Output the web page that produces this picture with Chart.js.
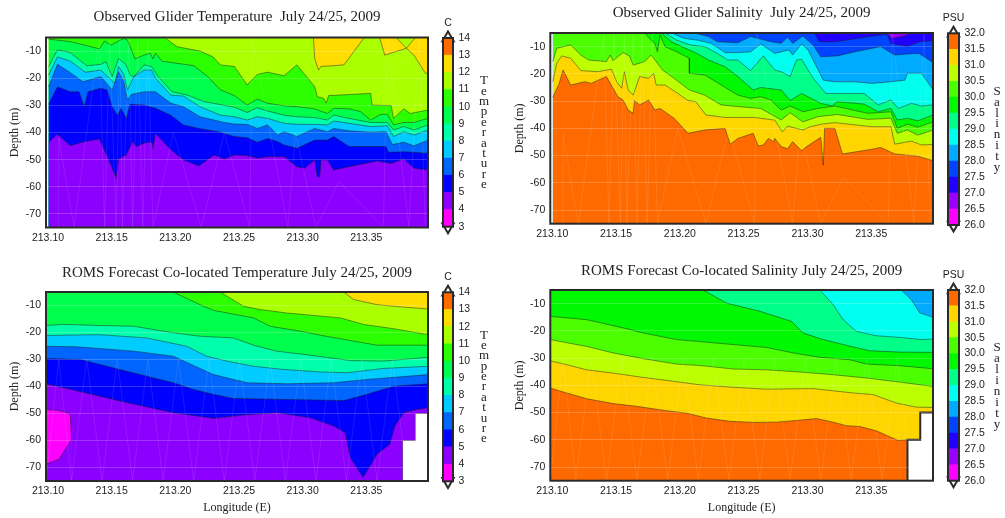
<!DOCTYPE html>
<html>
<head>
<meta charset="utf-8">
<title>Glider and ROMS sections</title>
<script src="https://cdn.jsdelivr.net/npm/chart.js@4"></script>
<style>
html, body { margin: 0; padding: 0; background: #fff; overflow: hidden; }
canvas { position: absolute; filter: blur(0.45px); }
</style>
</head>
<body>
<script>
// axis labels
const lonTicks = [213.10, 213.15, 213.20, 213.25, 213.30, 213.35];
const depthTicks = [-10, -20, -30, -40, -50, -60, -70];
const tempLevels = [3, 4, 5, 6, 7, 8, 9, 10, 11, 12, 13, 14];
const saltLevels = [26, 26.5, 27, 27.5, 28, 28.5, 29, 29.5, 30, 30.5, 31, 31.5, 32];

// band colours, lowest level first
const tempColors = ['#ff00ff', '#8b00ff', '#0000ff', '#0066ff', '#00ccff', '#00ffaa', '#00ff4c', '#2cff00', '#aaff00', '#ffdd00', '#ff6a00'];
const saltColors = ['#ff00ff', '#9900ff', '#2200ff', '#0044ff', '#00aaff', '#00ffee', '#00ff88', '#00f800', '#4cff00', '#bbff00', '#ffd500', '#ff6a00'];

// Observed glider temperature, contour depths [lon, depth]
const obsT5 = [[213.102,-43.6],[213.109,-40.6],[213.119,-44.9],[213.130,-43.4],[213.142,-42.4],[213.147,-47.7],[213.152,-53.2],[213.155,-56.9],[213.157,-49.8],[213.163,-48.3],[213.168,-43.4],[213.171,-45.2],[213.177,-44],[213.183,-43.4],[213.184,-45.8],[213.186,-40.3],[213.198,-46.4],[213.208,-50.1],[213.220,-52.3],[213.232,-48.3],[213.240,-49.8],[213.248,-48.3],[213.258,-48.5],[213.266,-49.5],[213.274,-48.9],[213.287,-48.9],[213.297,-52.6],[213.303,-53.2],[213.311,-50.1],[213.313,-56.3],[213.315,-56.3],[213.316,-50.1],[213.321,-50.1],[213.326,-53.8],[213.338,-52.6],[213.360,-50.5],[213.371,-51.4],[213.381,-49.8],[213.389,-53.2],[213.400,-53.8]];
const obsT6 = [[213.102,-29.6],[213.109,-23.1],[213.119,-25],[213.126,-25],[213.130,-30.5],[213.133,-25],[213.143,-23.7],[213.148,-24.3],[213.152,-30.5],[213.156,-33.6],[213.159,-31.1],[213.163,-34.8],[213.166,-29.6],[213.177,-29.9],[213.186,-31.1],[213.198,-33.6],[213.208,-37.2],[213.220,-38.5],[213.235,-39.7],[213.248,-41.5],[213.258,-41.9],[213.266,-43.6],[213.274,-42.2],[213.282,-43.4],[213.287,-44.6],[213.297,-45.8],[213.311,-42.8],[213.321,-42.8],[213.326,-41.5],[213.338,-45.2],[213.367,-45.2],[213.369,-47.3],[213.381,-47.1],[213.389,-47.3],[213.400,-47.7]];
const obsT7 = [[213.102,-23.1],[213.109,-14.9],[213.118,-17.6],[213.129,-21.3],[213.143,-19.4],[213.152,-24.3],[213.157,-17.6],[213.161,-21.3],[213.164,-28],[213.167,-26],[213.177,-25],[213.186,-25],[213.198,-29.2],[213.208,-30.5],[213.221,-34.2],[213.240,-36.3],[213.248,-36.9],[213.258,-37],[213.266,-38.5],[213.274,-37.2],[213.282,-40.9],[213.287,-39.7],[213.297,-41.5],[213.311,-38.5],[213.321,-39.7],[213.326,-38.5],[213.338,-39.4],[213.355,-39.9],[213.367,-39.7],[213.372,-44.4],[213.381,-43.6],[213.389,-44.9],[213.400,-42.8]];
const obsT8 = [[213.102,-18.8],[213.109,-12.1],[213.119,-13.7],[213.131,-17.8],[213.143,-17],[213.150,-20],[213.154,-21.9],[213.157,-15.7],[213.161,-18.6],[213.164,-24.3],[213.169,-19.4],[213.177,-17],[213.183,-17],[213.186,-20],[213.198,-26.2],[213.208,-26.6],[213.221,-30.5],[213.237,-33.6],[213.248,-34.2],[213.258,-35.4],[213.266,-34.2],[213.274,-34.8],[213.287,-36.6],[213.297,-37],[213.311,-37],[213.321,-37.2],[213.326,-35.8],[213.338,-36.6],[213.355,-37.8],[213.368,-37.5],[213.373,-41.5],[213.381,-39.7],[213.389,-40.9],[213.400,-39.1]];
const obsT9 = [[213.102,-15.7],[213.109,-9.6],[213.119,-10.5],[213.132,-15.4],[213.143,-14.9],[213.147,-13.9],[213.152,-19.4],[213.157,-12.7],[213.163,-15.1],[213.166,-18.8],[213.169,-19.4],[213.177,-15.1],[213.183,-15.7],[213.188,-19.4],[213.199,-25],[213.211,-26.2],[213.224,-28.6],[213.248,-30.7],[213.258,-32.6],[213.266,-30.9],[213.274,-32.1],[213.287,-33.6],[213.297,-34.2],[213.311,-34.5],[213.321,-35.4],[213.326,-33.6],[213.338,-34.8],[213.355,-36.3],[213.368,-36.3],[213.373,-39.1],[213.381,-37.8],[213.389,-39.1],[213.400,-37.2]];
const obsT10 = [[213.102,-5.6],[213.119,-6.5],[213.132,-8],[213.142,-9.2],[213.146,-6.3],[213.151,-7.8],[213.161,-5.3],[213.164,-6],[213.170,-12.9],[213.177,-11.5],[213.182,-10.8],[213.184,-12.9],[213.186,-10.8],[213.191,-13.7],[213.216,-15.4],[213.227,-19.4],[213.237,-24.3],[213.248,-26.4],[213.258,-29.9],[213.266,-27.7],[213.274,-29.2],[213.287,-30.2],[213.297,-30.5],[213.311,-31.3],[213.321,-33],[213.326,-31.1],[213.338,-31.3],[213.347,-32.3],[213.355,-35.4],[213.363,-33.3],[213.368,-33.3],[213.373,-37.2],[213.381,-36.3],[213.389,-36.3],[213.400,-34.8]];
const obsT11 = [[213.102,-5],[213.193,-5],[213.203,-8.4],[213.221,-10],[213.231,-12.1],[213.237,-15.1],[213.248,-15.7],[213.258,-22.5],[213.266,-18.6],[213.274,-17.8],[213.287,-19.1],[213.297,-15.1],[213.311,-23.1],[213.313,-26.8],[213.318,-27.4],[213.320,-29.2],[213.322,-26.4],[213.355,-25.6],[213.356,-29.9],[213.371,-30.1],[213.373,-34.8],[213.381,-31.3],[213.386,-33],[213.400,-31.7]];
const obsT12 = [[213.102,-5],[213.310,-5],[213.311,-12.7],[213.314,-17],[213.316,-15.7],[213.334,-15.1],[213.350,-5],[213.362,-5],[213.366,-11.5],[213.383,-9],[213.389,-11.5],[213.398,-18.2],[213.400,-18.2]];
const obsT12Gap = [[213.375,-5],[213.383,-9],[213.390,-5]];

// Observed glider salinity, contour depths [lon, depth]
const obsS27 = [[213.102,-5],[213.363,-5],[213.368,-7],[213.378,-6],[213.383,-5],[213.400,-5]];
const obsS275 = [[213.102,-5],[213.307,-5],[213.311,-8.2],[213.324,-8.2],[213.346,-6.6],[213.364,-5.4],[213.367,-8.8],[213.380,-10],[213.389,-8.2],[213.400,-7.8]];
const obsS28 = [[213.102,-5],[213.213,-5],[213.224,-6.3],[213.231,-8.2],[213.247,-8.6],[213.257,-6.3],[213.273,-8.2],[213.281,-8.8],[213.286,-6.6],[213.290,-8.8],[213.298,-6.1],[213.306,-9.4],[213.312,-13.7],[213.325,-13.4],[213.339,-11.9],[213.359,-10],[213.370,-13.1],[213.380,-12.7],[213.389,-12.5],[213.400,-15.8]];
const obsS285 = [[213.102,-5],[213.195,-5],[213.205,-7],[213.215,-7.6],[213.226,-8.8],[213.237,-12.2],[213.247,-12.2],[213.257,-11.9],[213.265,-9],[213.276,-12.5],[213.287,-11.2],[213.290,-13.1],[213.297,-9],[213.302,-11.2],[213.314,-22.3],[213.323,-22.9],[213.339,-22.9],[213.352,-23.5],[213.367,-22.9],[213.378,-22.3],[213.380,-19.8],[213.391,-19.8],[213.400,-25.9]];
const obsS29 = [[213.102,-5],[213.190,-5],[213.199,-7.6],[213.210,-9.4],[213.221,-10],[213.231,-12.5],[213.239,-14.9],[213.247,-14.9],[213.257,-18.8],[213.267,-13.4],[213.276,-18.6],[213.281,-19.2],[213.288,-21],[213.293,-14.9],[213.297,-14.7],[213.306,-21.6],[213.316,-27.2],[213.325,-27.2],[213.346,-27.2],[213.357,-31.4],[213.367,-29.6],[213.373,-32.7],[213.383,-30.8],[213.391,-31.8],[213.400,-31.4]];
const obsS295 = [[213.102,-5],[213.187,-5],[213.195,-8.2],[213.203,-10],[213.215,-12.5],[213.224,-14.9],[213.237,-17.4],[213.247,-21],[213.259,-25.9],[213.265,-25],[213.281,-25.9],[213.288,-29.8],[213.297,-27.2],[213.312,-30.8],[213.321,-31.8],[213.325,-30.2],[213.346,-31.1],[213.357,-33.9],[213.367,-32.7],[213.372,-36.9],[213.380,-36.3],[213.388,-37.2],[213.400,-35.1]];
const obsS30 = [[213.102,-5],[213.174,-5],[213.179,-7.6],[213.182,-8.8],[213.184,-11.9],[213.186,-5.7],[213.190,-10],[213.199,-11.9],[213.209,-14.3],[213.209,-19.8],[213.221,-20.4],[213.234,-24.1],[213.247,-27.8],[213.257,-29],[213.265,-28.4],[213.273,-29.6],[213.281,-33.3],[213.288,-31.8],[213.298,-33.9],[213.310,-32.7],[213.323,-31.8],[213.349,-34.5],[213.367,-33.9],[213.372,-40],[213.380,-38.5],[213.388,-39.6],[213.400,-37.6]];
const obsS305 = [[213.102,-15.5],[213.105,-10.6],[213.116,-9.4],[213.124,-13.1],[213.130,-14.9],[213.144,-15.5],[213.147,-13.1],[213.149,-15.2],[213.157,-12.2],[213.162,-13.4],[213.165,-16.8],[213.174,-15.5],[213.179,-13.1],[213.184,-16.1],[213.188,-18.6],[213.199,-22.3],[213.209,-25.9],[213.221,-27.8],[213.234,-31.4],[213.247,-32],[213.265,-32.7],[213.281,-36.9],[213.288,-34.3],[213.298,-37.6],[213.310,-35.7],[213.325,-34.9],[213.349,-36.7],[213.367,-36.3],[213.372,-41.8],[213.380,-40.6],[213.388,-42.5],[213.400,-40.6]];
const obsS31 = [[213.102,-22.9],[213.105,-16.1],[213.109,-13.4],[213.116,-14.3],[213.124,-18.8],[213.137,-19.2],[213.148,-18.3],[213.152,-22.9],[213.156,-25.3],[213.158,-19.2],[213.161,-25.9],[213.165,-27.8],[213.170,-21],[213.177,-21.6],[213.181,-19.8],[213.183,-24.1],[213.190,-24.1],[213.200,-27.2],[213.208,-29.8],[213.214,-30.2],[213.222,-35.1],[213.237,-36],[213.247,-36],[213.260,-36],[213.276,-37],[213.282,-41.3],[213.286,-39.2],[213.298,-40.6],[213.304,-39.4],[213.312,-38.5],[213.323,-37.9],[213.352,-39.4],[213.367,-39.4],[213.370,-45.8],[213.383,-44.7],[213.391,-46.1],[213.400,-45.9]];
const obsS315 = [[213.102,-28.6],[213.107,-23.5],[213.110,-18.6],[213.116,-24.1],[213.127,-22.9],[213.132,-23.5],[213.144,-21],[213.153,-28.4],[213.157,-29.6],[213.161,-33.3],[213.165,-34.5],[213.166,-29.8],[213.170,-31.4],[213.177,-29.6],[213.182,-33.3],[213.186,-32.7],[213.197,-36.3],[213.208,-41.8],[213.221,-40.6],[213.237,-40],[213.241,-45.8],[213.247,-43.7],[213.259,-41.8],[213.263,-46.5],[213.267,-46.1],[213.271,-43.7],[213.275,-44.9],[213.276,-43.7],[213.281,-46.7],[213.286,-47.5],[213.290,-44.9],[213.297,-48.2],[213.301,-46.7],[213.312,-43.3],[213.314,-53.5],[213.315,-40],[213.323,-40],[213.329,-49.4],[213.352,-47.7],[213.359,-47],[213.370,-49.4],[213.388,-50.2],[213.400,-51.9]];

// ROMS forecast temperature, contour depths [lon, depth]
const romsT4Top = [[213.100,-48.5],[213.110,-48.9],[213.119,-50.1],[213.120,-59.6]];
const romsT4Bottom = [[213.100,-68.7],[213.110,-67],[213.120,-59.6]];
const romsT5 = [[213.100,-39],[213.1215,-41.3],[213.153,-44.8],[213.1765,-47.3],[213.200,-49.7],[213.2315,-51.8],[213.255,-50.6],[213.281,-49.7],[213.3075,-51.6],[213.326,-54.6],[213.335,-57.1],[213.339,-66.4],[213.349,-73.7],[213.360,-65.1],[213.370,-61.4],[213.374,-54.6],[213.381,-49.7],[213.391,-48.5],[213.400,-47.9]];
const romsT6 = [[213.100,-29.6],[213.127,-30],[213.158,-33.7],[213.200,-38.6],[213.216,-41.1],[213.2315,-42.9],[213.247,-44.4],[213.289,-44.8],[213.334,-45.2],[213.352,-42.9],[213.373,-39.9],[213.400,-39]];
const romsT7 = [[213.100,-25.1],[213.124,-25.3],[213.169,-26.9],[213.200,-28.8],[213.2315,-35.6],[213.258,-38.6],[213.289,-39],[213.326,-38.6],[213.352,-37.4],[213.400,-35.6]];
const romsT8 = [[213.100,-21.1],[213.142,-20.8],[213.179,-22],[213.2106,-25.1],[213.2263,-28.8],[213.242,-30.6],[213.263,-32.5],[213.2865,-33.7],[213.3154,-34.6],[213.3363,-34.9],[213.365,-33.3],[213.400,-32.5]];
const romsT9 = [[213.100,-17.4],[213.114,-17],[213.142,-17.4],[213.169,-17.7],[213.200,-20.1],[213.221,-21.4],[213.247,-22],[213.263,-24.7],[213.281,-26.9],[213.3075,-28.4],[213.339,-30.4],[213.365,-30.6],[213.400,-29.2]];
const romsT10 = [[213.100,-5],[213.200,-5],[213.221,-9.7],[213.2315,-11.8],[213.263,-14.6],[213.276,-17.7],[213.2996,-19.5],[213.3154,-21],[213.3416,-23.2],[213.360,-24.7],[213.400,-24.7]];
const romsT11 = [[213.100,-5],[213.2368,-5],[213.2551,-10.3],[213.2682,-11.5],[213.2892,-12.8],[213.3311,-14.6],[213.3494,-17],[213.373,-18.6],[213.400,-20.8]];
const romsT12 = [[213.100,-5],[213.3337,-5],[213.3416,-7.8],[213.360,-9.7],[213.3783,-10.5],[213.400,-11.3]];

// ROMS forecast salinity, contour depths [lon, depth]
const romsS285 = [[213.100,-5],[213.3752,-5],[213.383,-8.6],[213.3896,-13.4],[213.400,-15]];
const romsS29 = [[213.100,-5],[213.3112,-5],[213.3217,-10.4],[213.3295,-15.9],[213.340,-20.2],[213.3556,-21.8],[213.3739,-22.4],[213.3909,-23.2],[213.400,-23]];
const romsS295 = [[213.100,-5],[213.2198,-5],[213.2381,-9.8],[213.2642,-12.8],[213.289,-16.5],[213.2982,-20.8],[213.3125,-23],[213.3321,-25.3],[213.3504,-27.3],[213.3739,-27.8],[213.400,-27.9]];
const romsS30 = [[213.100,-14.7],[213.1285,-15.9],[213.1493,-18.1],[213.1598,-19.2],[213.1728,-20.8],[213.199,-23.2],[213.2303,-24.5],[213.2695,-26.1],[213.2903,-28.1],[213.3112,-29.7],[213.3347,-30.6],[213.3478,-32.2],[213.3739,-32.8],[213.400,-33.9]];
const romsS305 = [[213.100,-23.2],[213.118,-24.8],[213.1285,-25.7],[213.1493,-28.1],[213.1728,-30.2],[213.199,-32.2],[213.2172,-32.7],[213.2433,-34],[213.2695,-34.3],[213.2956,-35.1],[213.3217,-36.1],[213.3478,-37.3],[213.3739,-38.8],[213.400,-40.4]];
const romsS31 = [[213.100,-31],[213.1128,-32.4],[213.1285,-34.3],[213.1493,-35.5],[213.1728,-37.1],[213.1963,-38.5],[213.2172,-39.8],[213.2433,-40.7],[213.2695,-41.4],[213.306,-41.2],[213.3217,-42],[213.3373,-42.8],[213.353,-43.4],[213.3713,-46.5],[213.3869,-48],[213.400,-48.1]];
const romsS315 = [[213.100,-41],[213.1128,-42.8],[213.1285,-44.9],[213.1493,-46.7],[213.1676,-47.7],[213.1911,-49.3],[213.2068,-50.2],[213.2225,-52],[213.2407,-53.2],[213.259,-53.6],[213.2773,-53.5],[213.293,-52.9],[213.3086,-52.2],[213.3217,-53.5],[213.3321,-54.8],[213.3426,-55.1],[213.3556,-56.7],[213.3726,-60.2],[213.3804,-60],[213.400,-60]];

// bottom below the last forecast station
const noData = [[213.380,-75],[213.380,-60],[213.390,-60],[213.390,-50],[213.400,-50]];

// faint triangulation seen through the fills
const meshObs = [[213.110,-75],[213.110,-42],[213.122,-75],[213.142,-5],[213.146,-75],[213.150,-5],[213.155,-75],[213.158,-5],[213.160,-75],[213.165,-5],[213.168,-75],[213.172,-5],[213.176,-75],[213.180,-5],[213.184,-75],[213.200,-40],[213.222,-75],[213.240,-40],[213.260,-75],[213.262,-5],[213.290,-75],[213.296,-40],[213.312,-75],[213.330,-58],[213.365,-75],[213.368,-5],[213.385,-75],[213.393,-5],[213.398,-75]];
const meshRoms = [[213.100,-75],[213.110,-30],[213.120,-75],[213.132,-30],[213.144,-75],[213.156,-30],[213.168,-75],[213.180,-30],[213.192,-75],[213.204,-30],[213.216,-75],[213.228,-30],[213.240,-75],[213.252,-30],[213.264,-75],[213.276,-30],[213.288,-75],[213.300,-30],[213.312,-75],[213.324,-30],[213.336,-75],[213.348,-30],[213.360,-75],[213.372,-30],[213.384,-75]];

const frameColor = '#2a2a2a';
const serif = '"Liberation Serif", serif';
const sans = '"Liberation Sans", sans-serif';

// outline around the plot or colour bar
const framePlugin = {
    id: 'frame',
    afterDraw(chart) {
        const a = chart.chartArea, ctx = chart.ctx;
        ctx.save();
        ctx.strokeStyle = frameColor;
        ctx.lineWidth = 2;
        ctx.strokeRect(a.left, a.top, a.width, a.height);
        ctx.restore();
    }
};

// unit on top of the bar and the stacked letters beside it
const barTextPlugin = {
    id: 'barText',
    afterDraw(chart, args, opts) {
        const a = chart.chartArea, ctx = chart.ctx;
        ctx.save();
        ctx.fillStyle = '#222';
        ctx.textAlign = 'center';
        ctx.textBaseline = 'middle';
        ctx.font = '10.5px ' + sans;
        ctx.fillText(opts.unit, (a.left + a.right) / 2, a.top + opts.unitY);
        ctx.font = '13px ' + serif;
        [...opts.word].forEach((c, i) => ctx.fillText(c, a.right + opts.wordX, a.top + opts.wordY + i * opts.wordStep));
        ctx.restore();
    }
};

function lineSet(points, color, extra) {
    return Object.assign({
        data: points.map(p => ({x: p[0], y: p[1]})),
        showLine: true,
        fill: 'start',
        backgroundColor: color,
        borderColor: 'rgba(30,30,30,0.6)',
        borderWidth: 0.8,
        pointRadius: 0,
        tension: 0
    }, extra || {});
}

function meshSet(points) {
    return lineSet(points, 'transparent', {fill: false, borderColor: 'rgba(255,255,255,0.14)', borderWidth: 0.7});
}

function makeCanvas(left, top, width, height) {
    const c = document.createElement('canvas');
    c.width = width;
    c.height = height;
    c.style.left = left + 'px';
    c.style.top = top + 'px';
    c.style.width = width + 'px';
    c.style.height = height + 'px';
    document.body.appendChild(c);
    return c;
}

function drawPanel(p) {
    new Chart(makeCanvas(p.left, p.top, 436, p.height), {
        type: 'scatter',
        data: {datasets: p.datasets},
        plugins: [framePlugin],
        options: {
            responsive: false,
            animation: false,
            layout: {padding: {right: 8}},
            scales: {
                x: {
                    type: 'linear',
                    min: 213.10,
                    max: 213.40,
                    afterBuildTicks: s => { s.ticks = lonTicks.map(v => ({value: v})); },
                    afterFit: s => { s.height = p.xHeight; },
                    grid: {display: false, drawTicks: false},
                    border: {display: false},
                    ticks: {
                        autoSkip: false,
                        maxRotation: 0,
                        padding: 4,
                        labelOffset: 2,
                        color: '#222',
                        font: {family: sans, size: 10.5},
                        callback: v => v.toFixed(2)
                    },
                    title: {
                        display: !!p.xTitle,
                        text: p.xTitle,
                        color: '#222',
                        padding: {top: 0, bottom: 3},
                        font: {family: serif, size: 12}
                    }
                },
                y: {
                    min: -75,
                    max: -5,
                    afterBuildTicks: s => { s.ticks = depthTicks.map(v => ({value: v})); },
                    afterFit: s => { s.width = p.yWidth; },
                    grid: {color: 'rgba(255,255,255,0.2)', drawTicks: false, z: 1},
                    border: {display: false},
                    ticks: {
                        autoSkip: false,
                        padding: 5,
                        color: '#222',
                        font: {family: sans, size: 10.5}
                    },
                    title: {
                        display: true,
                        text: 'Depth (m)',
                        color: '#222',
                        padding: {top: 8, bottom: 0},
                        font: {family: serif, size: 12}
                    }
                }
            },
            plugins: {
                legend: {display: false},
                tooltip: {enabled: false},
                title: {
                    display: true,
                    text: p.title,
                    fullSize: false,
                    color: '#222',
                    padding: {top: p.titleTop, bottom: p.titleBottom},
                    font: {family: serif, size: 15, weight: 'normal', lineHeight: 1}
                }
            }
        }
    });
}

function drawBar(b) {
    const segments = b.levels.slice(1).map((v, i) => ({
        type: 'bar',
        data: [[b.levels[i], v]],
        backgroundColor: b.colors[i],
        barPercentage: 1,
        categoryPercentage: 1,
        order: 1
    }));
    const top = b.levels[b.levels.length - 1];
    const cap = (value, rotation) => ({
        type: 'line',
        data: [value],
        pointStyle: 'triangle',
        pointRadius: 6.6,
        pointRotation: rotation,
        pointBackgroundColor: '#fff',
        pointBorderColor: frameColor,
        pointBorderWidth: 2,
        clip: false,
        order: 2
    });
    new Chart(makeCanvas(b.left, b.top, b.width, b.height), {
        type: 'bar',
        data: {labels: [''], datasets: segments.concat([cap(top, 0), cap(b.levels[0], 180)])},
        plugins: [framePlugin, barTextPlugin],
        options: {
            responsive: false,
            animation: false,
            layout: {padding: {left: 10, top: b.padTop, bottom: b.padBottom}},
            scales: {
                x: {display: false, stacked: true},
                y: {
                    position: 'right',
                    min: b.levels[0],
                    max: top,
                    afterBuildTicks: s => { s.ticks = b.levels.map(v => ({value: v})); },
                    afterFit: s => { s.width = b.width - 10 - b.barWidth; },
                    grid: {display: false, drawTicks: false},
                    border: {display: false},
                    ticks: {
                        autoSkip: false,
                        padding: 5.5,
                        color: '#222',
                        font: {family: sans, size: 10.5},
                        callback: b.format
                    }
                }
            },
            plugins: {
                legend: {display: false},
                tooltip: {enabled: false},
                barText: {unit: b.unit, unitY: b.unitY, word: b.word, wordX: b.wordX, wordY: b.wordY, wordStep: b.wordStep}
            }
        }
    });
}

function bands(contours, colors) {
    // first dataset is painted last, so the deepest contour goes first
    return contours.map((c, i) => lineSet(c, colors[i]));
}

drawPanel({
    left: 0, top: 0, height: 258, yWidth: 46, xHeight: 30.5, titleTop: 10, titleBottom: 12.5,
    title: 'Observed Glider Temperature  July 24/25, 2009',
    datasets: [meshSet(meshObs), lineSet(obsT12Gap, tempColors[8], {fill: 'end'})].concat(
        bands([obsT5, obsT6, obsT7, obsT8, obsT9, obsT10, obsT11, obsT12], tempColors.slice(1, 9)),
        [lineSet([[213.102, -5], [213.400, -5]], tempColors[9], {borderWidth: 0})])
});
drawPanel({
    left: 505, top: 0, height: 258, yWidth: 45.3, xHeight: 34.3, titleTop: 6, titleBottom: 12,
    title: 'Observed Glider Salinity  July 24/25, 2009',
    datasets: [meshSet(meshObs)].concat(
        bands([obsS315, obsS31, obsS305, obsS30, obsS295, obsS29, obsS285, obsS28, obsS275, obsS27], saltColors.slice(2).reverse()),
        [lineSet([[213.102, -5], [213.400, -5]], saltColors[1], {borderWidth: 0})])
});
drawPanel({
    left: 0, top: 258, height: 260, yWidth: 46, xHeight: 37, titleTop: 8, titleBottom: 11,
    title: 'ROMS Forecast Co-located Temperature July 24/25, 2009',
    xTitle: 'Longitude (E)',
    datasets: [meshSet(meshRoms), lineSet(noData, '#fff', {borderWidth: 1, borderColor: 'rgba(60,60,60,0.5)'}),
        lineSet(romsT4Bottom, tempColors[1]), lineSet(romsT4Top, tempColors[0])].concat(
        bands([romsT5, romsT6, romsT7, romsT8, romsT9, romsT10, romsT11, romsT12], tempColors.slice(1, 9)),
        [lineSet([[213.100, -5], [213.400, -5]], tempColors[9], {borderWidth: 0})])
});
drawPanel({
    left: 505, top: 258, height: 260, yWidth: 45.3, xHeight: 37.3, titleTop: 6, titleBottom: 11,
    title: 'ROMS Forecast Co-located Salinity July 24/25, 2009',
    xTitle: 'Longitude (E)',
    datasets: [meshSet(meshRoms), lineSet(noData, '#fff', {borderWidth: 2, borderColor: frameColor})].concat(
        bands([romsS315, romsS31, romsS305, romsS30, romsS295, romsS29, romsS285], saltColors.slice(5).reverse()),
        [lineSet([[213.100, -5], [213.400, -5]], saltColors[4], {borderWidth: 0})])
});

const tempBar = {levels: tempLevels, colors: tempColors, left: 433, width: 67, barWidth: 10, unit: 'C', word: 'Temperature', wordX: 31, wordStep: 10.35, format: v => v};
const saltBar = {levels: saltLevels, colors: saltColors, left: 938, width: 67, barWidth: 11, unit: 'PSU', word: 'Salinity', wordX: 38, wordStep: 10.9, format: v => v.toFixed(1)};

drawBar(Object.assign({}, tempBar, {top: 12, height: 230, padTop: 26, padBottom: 15.3, unitY: -15, wordY: 43}));
drawBar(Object.assign({}, saltBar, {top: 8, height: 230, padTop: 25.3, padBottom: 13, unitY: -15, wordY: 58}));
drawBar(Object.assign({}, tempBar, {top: 266, height: 230, padTop: 26.3, padBottom: 14.7, unitY: -15, wordY: 43}));
drawBar(Object.assign({}, saltBar, {top: 265, height: 230, padTop: 25, padBottom: 14.3, unitY: -15, wordY: 58}));
</script>
</body>
</html>
